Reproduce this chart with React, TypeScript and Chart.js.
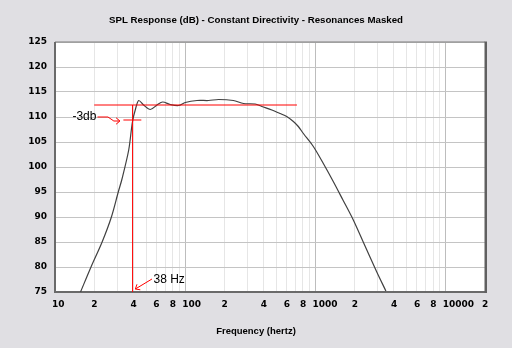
import React, { useEffect, useRef } from 'react';
import { Chart, registerables } from 'chart.js';

Chart.register(...registerables);

// ---- data ----
const freqHz = [15.7, 18.9, 23, 27.1, 30.6, 32.6, 36.8, 39.3, 41.6, 43.9, 47.9, 53.9, 60.7, 67, 76.8, 88.9, 100, 123, 151, 180, 234, 280, 344, 387, 462, 535, 601, 676, 738, 807, 962, 1148, 1368, 1616, 1950, 2324, 2941, 3469];
const splDb = [75, 80, 85, 90, 95, 97.5, 103.4, 109, 111.7, 113.3, 112.4, 111.5, 112.4, 113, 112.5, 112.3, 112.9, 113.3, 113.3, 113.5, 113.3, 112.7, 112.6, 112.1, 111.4, 110.7, 110.1, 109.1, 108.1, 106.7, 104.1, 100.7, 97.1, 93.5, 89.4, 85.0, 79.1, 75.2];

const xTickValues = [10, 20, 30, 40, 50, 60, 70, 80, 90, 100, 200, 300, 400, 500, 600, 700, 800, 900, 1000, 2000, 3000, 4000, 5000, 6000, 7000, 8000, 9000, 10000, 20000];
const xTickLabels = ['10', '2', '', '4', '', '6', '', '8', '', '100', '2', '', '4', '', '6', '', '8', '', '1000', '2', '', '4', '', '6', '', '8', '', '10000', '2'];
const decadeHz = [10, 100, 1000, 10000];

const xMinHz = 10;
const xMaxHz = 20000;
const yMinDb = 75;
const yMaxDb = 125;
const yStepDb = 5;

// reference / cutoff markers
const refLevelDb = 112.4;
const refRangeHz = [20, 720];
const cutoffHz = 39.4;
const minus3Db = refLevelDb - 3;
const minus3RangeHz = [33.5, 46];

// annotation anchors (data units)
const minus3Label = '-3db';
const minus3LabelHz = 20.8;
const minus3LabelDb = 110;
const minus3ArrowHz = [21.2, 25.5, 28.3, 31.5];
const minus3ArrowDb = [110, 110, 109.2, 109.2];
const cutoffLabel = '38 Hz';
const cutoffLabelHz = 57;
const cutoffLabelDb = 77.4;
const cutoffArrowHz = [55.5, 41.4];
const cutoffArrowDb = [77.6, 75.6];

const TITLE = 'SPL Response (dB) - Constant Directivity - Resonances Masked';
const X_TITLE = 'Frequency (hertz)';

const BG = '#E0DFE3';
const RED = '#ff0000';

const bgPlugin = {
  id: 'bgPlugin',
  beforeDraw(chart: any) {
    const { ctx, chartArea: a, width, height } = chart;
    ctx.save();
    ctx.fillStyle = BG;
    ctx.fillRect(0, 0, width, height);
    ctx.fillStyle = '#ffffff';
    ctx.fillRect(a.left, a.top, a.right - a.left, a.bottom - a.top);
    ctx.restore();
  },
  beforeDatasetsDraw(chart: any) {
    const { ctx, chartArea: a } = chart;
    ctx.save();
    ctx.fillStyle = '#7c7c7c';
    ctx.fillRect(a.left, a.top - 0.5, a.right - a.left, 1);
    ctx.fillStyle = '#6a6a6a';
    ctx.fillRect(a.left - 1, a.top, 2, a.bottom - a.top + 1);
    ctx.fillRect(a.left - 1, a.bottom - 1, a.right - a.left + 3, 2);
    ctx.fillStyle = '#606060';
    ctx.fillRect(a.right - 0.5, a.top - 0.5, 2.5, a.bottom - a.top + 1.5);
    ctx.restore();
  },
};

function drawArrow(ctx: CanvasRenderingContext2D, pts: number[][]) {
  ctx.beginPath();
  ctx.moveTo(pts[0][0], pts[0][1]);
  for (let i = 1; i < pts.length; i++) ctx.lineTo(pts[i][0], pts[i][1]);
  ctx.stroke();
  const [x0, y0] = pts[pts.length - 2];
  const [x1, y1] = pts[pts.length - 1];
  const ang = Math.atan2(y1 - y0, x1 - x0);
  const L = 5;
  ctx.beginPath();
  ctx.moveTo(x1 - L * Math.cos(ang - 0.7), y1 - L * Math.sin(ang - 0.7));
  ctx.lineTo(x1, y1);
  ctx.lineTo(x1 - L * Math.cos(ang + 0.7), y1 - L * Math.sin(ang + 0.7));
  ctx.stroke();
}

const annotPlugin = {
  id: 'annotPlugin',
  afterDatasetsDraw(chart: any) {
    const { ctx } = chart;
    const xs = chart.scales.x;
    const ys = chart.scales.y;
    const px = (v: number) => xs.getPixelForValue(v);
    const py = (v: number) => ys.getPixelForValue(v);
    ctx.save();
    ctx.font = '12px "Liberation Sans", Arial, sans-serif';
    ctx.fillStyle = '#000';
    ctx.textBaseline = 'middle';
    ctx.textAlign = 'right';
    ctx.fillText(minus3Label, px(minus3LabelHz), py(minus3LabelDb));
    ctx.textAlign = 'left';
    ctx.fillText(cutoffLabel, px(cutoffLabelHz), py(cutoffLabelDb));
    ctx.strokeStyle = RED;
    ctx.lineWidth = 1;
    drawArrow(ctx, minus3ArrowHz.map((h, i) => [px(h), py(minus3ArrowDb[i])]));
    drawArrow(ctx, cutoffArrowHz.map((h, i) => [px(h), py(cutoffArrowDb[i])]));
    ctx.restore();
  },
};

const tickFont = { family: '"DejaVu Sans", sans-serif', weight: 'bold' as const, size: 9 };
const titleFont = { family: '"Liberation Sans", Arial, sans-serif', weight: 'bold' as const, size: 9.7, lineHeight: '12px' };

export default function App() {
  const ref = useRef<HTMLCanvasElement>(null);

  useEffect(() => {
    document.body.style.margin = '0';
    document.body.style.background = BG;
    const curve = freqHz.map((f, i) => ({ x: f, y: splDb[i] }));
    const chart = new Chart(ref.current as HTMLCanvasElement, {
      type: 'line',
      data: {
        datasets: [
          {
            data: refRangeHz.map((f) => ({ x: f, y: refLevelDb })),
            borderColor: RED, borderWidth: 1, pointRadius: 0, xAxisID: 'x', yAxisID: 'y',
          },
          {
            data: [{ x: cutoffHz, y: yMinDb }, { x: cutoffHz, y: refLevelDb }],
            borderColor: RED, borderWidth: 1, pointRadius: 0, xAxisID: 'x', yAxisID: 'y',
          },
          {
            data: minus3RangeHz.map((f) => ({ x: f, y: minus3Db })),
            borderColor: RED, borderWidth: 1, pointRadius: 0, xAxisID: 'x', yAxisID: 'y',
          },
          {
            data: curve,
            borderColor: '#404040', borderWidth: 1.2, pointRadius: 0,
            tension: 0.3, xAxisID: 'x', yAxisID: 'y',
          },
        ],
      },
      options: {
        animation: false,
        responsive: false,
        devicePixelRatio: 1,
        layout: { padding: 0 },
        plugins: {
          legend: { display: false },
          tooltip: { enabled: false },
          title: {
            display: true, text: TITLE, color: '#000', font: titleFont,
            padding: { top: 14, bottom: 16 },
          },
          subtitle: {
            display: true, position: 'bottom', text: X_TITLE, color: '#000',
            font: { ...titleFont, size: 9.5 },
            padding: { top: 0, bottom: 11 },
          },
        },
        scales: {
          x: {
            type: 'logarithmic',
            min: xMinHz,
            max: xMaxHz,
            afterBuildTicks: (s: any) => { s.ticks = xTickValues.map((value) => ({ value })); },
            ticks: {
              autoSkip: false, maxRotation: 0, minRotation: 0, align: 'start', labelOffset: -3,
              padding: 7, color: '#000', font: tickFont,
              callback: (v: any) => xTickLabels[xTickValues.indexOf(Number(v))] ?? '',
            },
            grid: {
              drawTicks: false,
              color: (c: any) => (c.tick && decadeHz.includes(c.tick.value) ? '#bdbdbd' : '#e6e6e6'),
              lineWidth: 1,
            },
            border: { display: false },
            afterFit: (s: any) => { s.height = 33; },
          },
          y: {
            type: 'linear',
            position: 'left',
            min: yMinDb,
            max: yMaxDb,
            ticks: { stepSize: yStepDb, padding: 8, color: '#000', font: tickFont },
            grid: { drawTicks: false, color: '#c4c4c4', lineWidth: 1 },
            border: { display: false },
            afterFit: (s: any) => { s.width = 55; },
          },
          yRight: {
            type: 'linear',
            position: 'right',
            display: true,
            grid: { display: false, drawTicks: false },
            ticks: { display: false },
            border: { display: false },
            afterFit: (s: any) => { s.width = 27; },
          },
        },
      } as any,
      plugins: [bgPlugin, annotPlugin],
    });
    return () => chart.destroy();
  }, []);

  return (
    <div style={{ width: 512, height: 348 }}>
      <canvas ref={ref} width={512} height={348} style={{ display: 'block', width: 512, height: 348 }} />
    </div>
  );
}
